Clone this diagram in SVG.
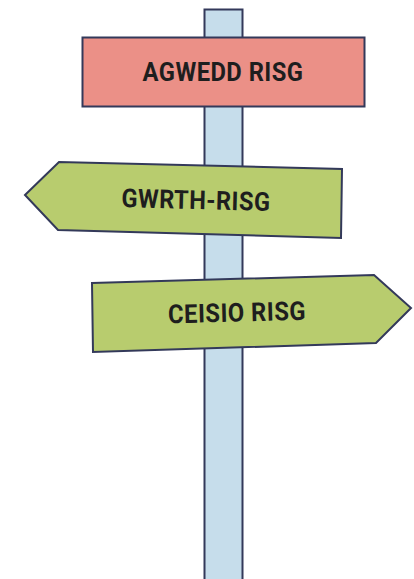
<svg xmlns="http://www.w3.org/2000/svg" width="414" height="579" viewBox="0 0 414 579">
<style>
.s{stroke:#33395a;stroke-width:2;stroke-linejoin:miter}
.t{font-family:Roboto,"Liberation Sans",sans-serif;font-weight:700;font-size:26px;fill:#1e1e1e;text-anchor:middle;letter-spacing:0.5px}
</style>
<rect width="414" height="579" fill="#ffffff"/>
<g id="pole">
<rect class="s" x="204.5" y="9.5" width="38" height="580" fill="#c6ddeb"/>
</g>
<g id="connectors"></g>
<g id="sign-top">
<rect class="s" x="82.5" y="37.5" width="282" height="69" fill="#eb9087"/>
<text class="t" x="223" y="80.5" textLength="161" lengthAdjust="spacingAndGlyphs">AGWEDD RISG</text>
</g>
<g id="sign-left">
<polygon class="s" points="25,195 59,162 342,169 341,238 58,230" fill="#b8cc6e"/>
<text class="t" x="196" y="209" textLength="149" lengthAdjust="spacingAndGlyphs" transform="rotate(1.5 196 200)">GWRTH-RISG</text>
</g>
<g id="sign-right">
<polygon class="s" points="92,283 374,275 411,308 376,343 93,352" fill="#b8cc6e"/>
<text class="t" x="237" y="321.5" textLength="138" lengthAdjust="spacingAndGlyphs" transform="rotate(-1.5 237 312)">CEISIO RISG</text>
</g>
</svg>
